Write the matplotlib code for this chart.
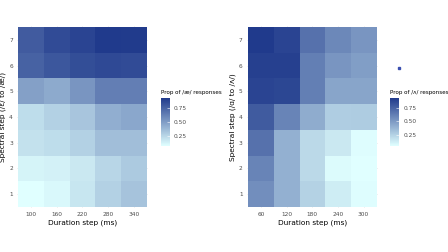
import numpy as np
import matplotlib
matplotlib.use("Agg")
import matplotlib.pyplot as plt
from matplotlib.colors import LinearSegmentedColormap, Normalize
from matplotlib.patches import Rectangle

steps = [1, 2, 3, 4, 5, 6, 7]

dur_left = [100, 160, 220, 280, 340]
prop_ae = [  # rows = spectral step 1..7
    [0.07, 0.10, 0.18, 0.27, 0.33],
    [0.12, 0.13, 0.17, 0.25, 0.30],
    [0.20, 0.22, 0.27, 0.35, 0.35],
    [0.22, 0.27, 0.32, 0.42, 0.45],
    [0.48, 0.44, 0.53, 0.63, 0.63],
    [0.75, 0.80, 0.84, 0.86, 0.85],
    [0.78, 0.85, 0.88, 0.93, 0.92],
]

dur_right = [60, 120, 180, 240, 300]
prop_uh = [
    [0.55, 0.40, 0.25, 0.13, 0.06],
    [0.60, 0.40, 0.22, 0.07, 0.05],
    [0.68, 0.40, 0.22, 0.15, 0.06],
    [0.78, 0.60, 0.42, 0.27, 0.28],
    [0.88, 0.87, 0.62, 0.45, 0.45],
    [0.90, 0.90, 0.62, 0.52, 0.48],
    [0.93, 0.88, 0.68, 0.58, 0.52],
]

cmap = LinearSegmentedColormap.from_list("g", ["#e0ffff", "#203a8c"])
grey = "#4d4d4d"


def panel(ax, cax, durs, vals, ylab, ctitle):
    vals = np.array(vals)
    norm = Normalize(vals.min(), vals.max())
    ax.set_facecolor("white")
    for v in range(len(durs)):
        ax.axvline(v, color="#ebebeb", lw=0.5, zorder=0)
    for s in range(len(steps)):
        ax.axhline(s, color="#ebebeb", lw=0.5, zorder=0)
    im = ax.imshow(vals, cmap=cmap, norm=norm, origin="lower", aspect="auto",
                   extent=(-0.5, len(durs) - 0.5, -0.5, len(steps) - 0.5), zorder=1)
    ax.set_xlim(-0.55, len(durs) - 0.45)
    ax.set_ylim(-0.55, len(steps) - 0.45)
    ax.set_xticks(range(len(durs)))
    ax.set_xticklabels([str(d) for d in durs])
    ax.set_yticks(range(len(steps)))
    ax.set_yticklabels([str(s) for s in steps])
    ax.tick_params(length=0, labelsize=4.2, labelcolor=grey, pad=3)
    for sp in ax.spines.values():
        sp.set_visible(False)
    ax.set_xlabel("Duration step (ms)", fontsize=5.3, labelpad=2)
    ax.set_ylabel(ylab, fontsize=5.3, labelpad=2)
    cb = plt.colorbar(im, cax=cax, ticks=[0.25, 0.5, 0.75])
    cb.ax.set_yticklabels(["0.25", "0.50", "0.75"])
    cb.outline.set_visible(False)
    cb.ax.tick_params(length=2, width=0.4, color="white", direction="in",
                      labelsize=4.2, labelcolor=grey, pad=3)
    cax.set_title(ctitle, fontsize=4.1, loc="left", pad=3)


fig = plt.figure(figsize=(4.48, 2.52), dpi=100)
ax1 = fig.add_axes([0.038, 0.175, 0.292, 0.722])
cax1 = fig.add_axes([0.359, 0.421, 0.02, 0.19])
ax2 = fig.add_axes([0.551, 0.175, 0.292, 0.722])
cax2 = fig.add_axes([0.871, 0.421, 0.02, 0.19])

panel(ax1, cax1, dur_left, prop_ae, "Spectral step (/ɛ/ to /æ/)", "Prop of /æ/ responses")
panel(ax2, cax2, dur_right, prop_uh, "Spectral step (/ɑ/ to /ʌ/)", "Prop of /ʌ/ responses")

# small stray dot seen in the original image
fig.patches.append(Rectangle((0.889, 0.727), 0.0045, 0.008, color="#3a4fb0",
                             transform=fig.transFigure, figure=fig))

fig.savefig("out.png", dpi=100)
